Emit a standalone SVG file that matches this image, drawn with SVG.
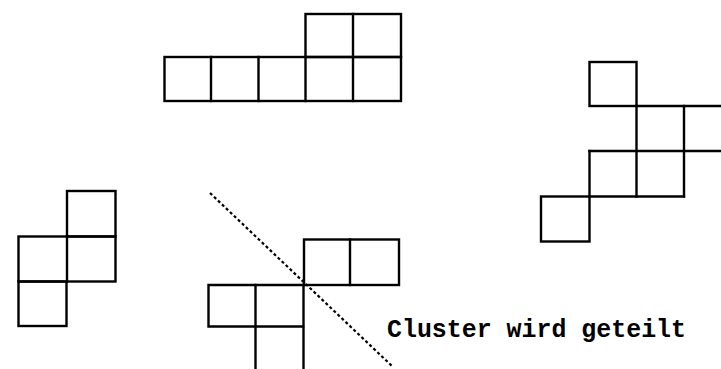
<svg xmlns="http://www.w3.org/2000/svg" width="721" height="369" viewBox="0 0 721 369">
  <style>
    .grid { fill: none; stroke: #000; stroke-width: 2.4; stroke-linecap: square; stroke-linejoin: miter; }
    .cut { fill: none; stroke: #000; stroke-width: 2.2; stroke-dasharray: 3 2.5; }
    .label { font-family: "Liberation Mono", "DejaVu Sans Mono", monospace; font-size: 26.5px; font-weight: bold; fill: #000; }
  </style>
  <rect width="721" height="369" fill="#fff"/>

  <!-- long cluster, top -->
  <g id="cluster-top" class="grid">
    <rect x="164.5" y="57" width="236.5" height="44"/>
    <rect x="305.5" y="14" width="95.5" height="43"/>
    <line x1="211" y1="57" x2="211" y2="101"/>
    <line x1="258.5" y1="57" x2="258.5" y2="101"/>
    <line x1="305.5" y1="57" x2="305.5" y2="101"/>
    <line x1="353" y1="14" x2="353" y2="101"/>
  </g>

  <!-- staircase cluster, right -->
  <g id="cluster-right" class="grid">
    <rect x="589.5" y="62" width="47" height="44"/>
    <line x1="636.5" y1="106" x2="721" y2="106"/>
    <line x1="589.5" y1="151" x2="721" y2="151"/>
    <line x1="684" y1="106" x2="684" y2="196.5"/>
    <line x1="636.5" y1="106" x2="636.5" y2="196.5"/>
    <line x1="589.5" y1="151" x2="589.5" y2="196.5"/>
    <line x1="589.5" y1="196.5" x2="684" y2="196.5"/>
    <rect x="541" y="196.5" width="48.5" height="45"/>
  </g>

  <!-- small cluster, left -->
  <g id="cluster-left" class="grid">
    <rect x="67" y="191" width="48.5" height="45.5"/>
    <rect x="18.5" y="236.5" width="97" height="45"/>
    <line x1="67" y1="236.5" x2="67" y2="281.5"/>
    <rect x="18.5" y="281.5" width="48" height="44.5"/>
  </g>

  <!-- cluster being split, bottom -->
  <g id="cluster-split" class="grid">
    <rect x="304" y="239.5" width="95" height="45.5"/>
    <line x1="350" y1="239.5" x2="350" y2="285"/>
    <polyline points="303,326.5 208.5,326.5 208.5,285 304,285"/>
    <line x1="255.5" y1="285" x2="255.5" y2="369"/>
    <line x1="303.5" y1="285" x2="303.5" y2="369"/>
  </g>

  <!-- dotted cut line -->
  <g id="connectors">
    <line class="cut" x1="210" y1="193" x2="393" y2="367"/>
  </g>

  <g id="caption">
    <text class="label" x="387" y="337" textLength="299" lengthAdjust="spacingAndGlyphs">Cluster wird geteilt</text>
  </g>
</svg>
